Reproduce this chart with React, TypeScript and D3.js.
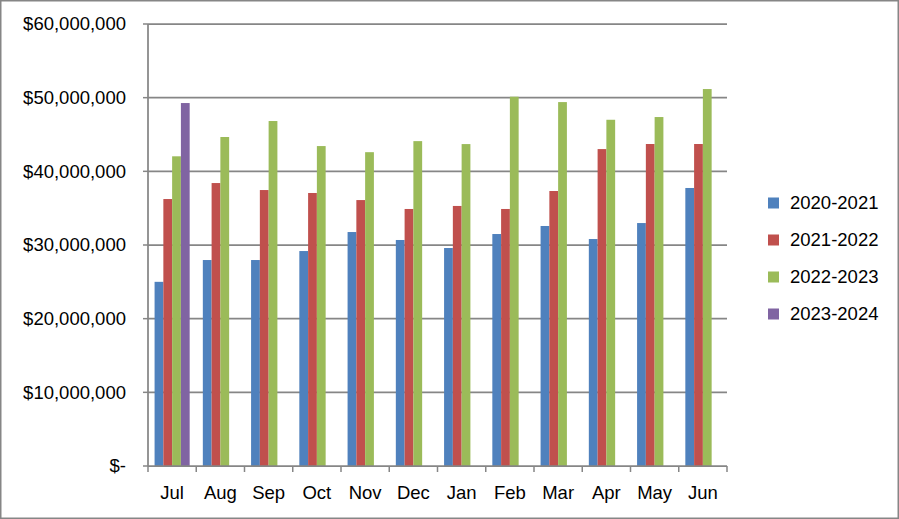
import React from "react";
import * as d3 from "d3";

const months = ["Jul", "Aug", "Sep", "Oct", "Nov", "Dec", "Jan", "Feb", "Mar", "Apr", "May", "Jun"];
const seriesNames = ["2020-2021", "2021-2022", "2022-2023", "2023-2024"];
const s2020 = [25.0, 27.96, 27.96, 29.18, 31.76, 30.68, 29.59, 31.49, 32.58, 30.81, 32.98, 37.74].map((v) => v * 1e6);
const s2021 = [36.24, 38.41, 37.46, 37.06, 36.1, 34.89, 35.3, 34.89, 37.33, 43.02, 43.71, 43.71].map((v) => v * 1e6);
const s2022 = [42.04, 44.66, 46.83, 43.43, 42.6, 44.1, 43.7, 50.13, 49.4, 47.0, 47.37, 51.17].map((v) => v * 1e6);
const s2023 = [49.27, null, null, null, null, null, null, null, null, null, null, null].map((v) => (v == null ? null : v * 1e6));
const yTicks = [0, 10e6, 20e6, 30e6, 40e6, 50e6, 60e6];
const colors = ["#4F81BD", "#C0504D", "#9BBB59", "#8064A2"];

const W = 899;
const H = 519;
const left = 148;
const right = 727;
const top = 24;
const bottom = 466;
const FONT = "'Liberation Sans', Arial, sans-serif";
const GRID = "#868686";

export default function App() {
  const all = [s2020, s2021, s2022, s2023];
  const x = d3.scaleBand<string>().domain(months).range([left, right]).padding(0);
  const y = d3.scaleLinear().domain([0, 60e6]).range([bottom, top]);
  const bw = x.bandwidth() / 5.5;
  const fmt = (v: number) => (v === 0 ? "$-" : "$" + d3.format(",")(v));

  return (
    <svg width={W} height={H} style={{ position: "absolute", left: 0, top: 0, background: "#fff" }} fontFamily={FONT}>
      <rect x={0.75} y={0.75} width={W - 1.5} height={H - 1.5} fill="#fff" stroke={GRID} strokeWidth={1.5} />
      {yTicks.map((t) => (
        <g key={t}>
          {t > 0 && <line x1={left} x2={right} y1={y(t)} y2={y(t)} stroke={GRID} strokeWidth={1.75} />}
          <line x1={left - 5} x2={left} y1={y(t)} y2={y(t)} stroke={GRID} strokeWidth={1.5} />
          <text x={126} y={y(t)} dy="0.35em" textAnchor="end" fontSize={18.5} fill="#000">
            {fmt(t)}
          </text>
        </g>
      ))}
      {all.map((s, si) =>
        s.map((v, i) =>
          v == null ? null : (
            <rect
              key={si + "-" + i}
              x={(x(months[i]) as number) + 0.75 * bw + si * bw}
              y={y(v)}
              width={bw}
              height={bottom - y(v)}
              fill={colors[si]}
            />
          )
        )
      )}
      <line x1={left} x2={left} y1={top} y2={bottom} stroke={GRID} strokeWidth={1.75} />
      <line x1={left} x2={right} y1={bottom} y2={bottom} stroke={GRID} strokeWidth={1.75} />
      {months.concat(["_end"]).map((m, i) => {
        const xx = left + i * x.bandwidth();
        return <line key={"t" + i} x1={xx} x2={xx} y1={bottom} y2={bottom + 6} stroke={GRID} strokeWidth={1.5} />;
      })}
      {months.map((m) => (
        <text key={m} x={(x(m) as number) + x.bandwidth() / 2} y={499} textAnchor="middle" fontSize={18.5} fill="#000">
          {m}
        </text>
      ))}
      {seriesNames.map((n, i) => (
        <g key={n} transform={`translate(768, ${203 + i * 37})`}>
          <rect x={0} y={-5.5} width={11} height={11} fill={colors[i]} />
          <text x={22} y={0} dy="0.35em" fontSize={18.5} fill="#000">
            {n}
          </text>
        </g>
      ))}
    </svg>
  );
}
